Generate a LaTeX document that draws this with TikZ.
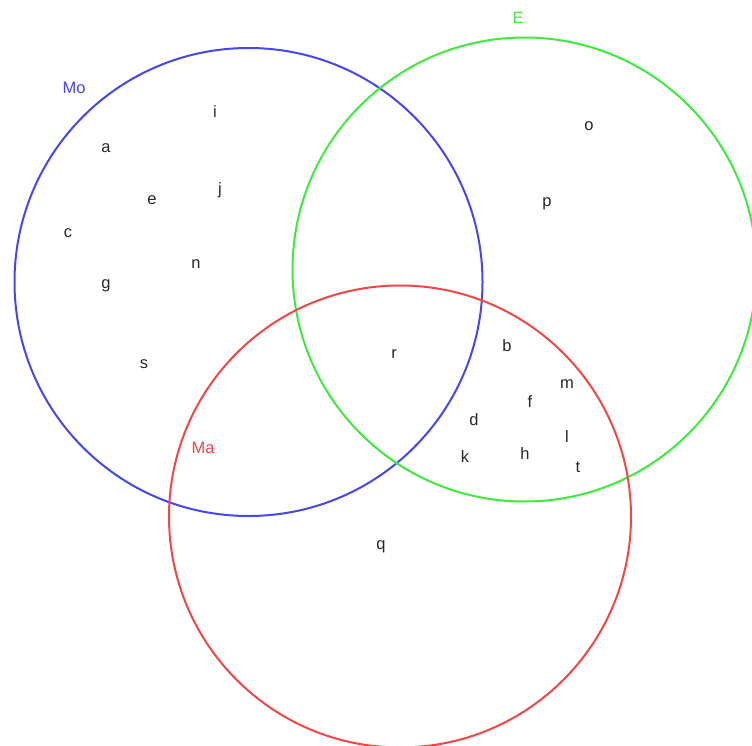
\documentclass[tikz,border=0pt]{standalone}
\usepackage{fontspec}
\setmainfont{Liberation Sans}
\definecolor{moblue}{RGB}{70,70,245}
\definecolor{egreen}{RGB}{60,235,60}
\definecolor{mared}{RGB}{245,70,70}
\definecolor{lettergrey}{RGB}{40,40,40}
\tikzset{
  elem/.style={text=lettergrey,font=\fontsize{16.5}{18}\selectfont,inner sep=0pt},
  setlabel/.style={font=\fontsize{16.5}{18}\selectfont,inner sep=0pt}
}
\begin{document}
\begin{tikzpicture}[x=1pt,y=1pt,yscale=-1,xscale=1]
        \useasboundingbox (0,0) rectangle (752,746);

        %Shape: Circle Mo
        \draw [moblue, line width=2pt] (248.5,282) circle (234);
        %Shape: Circle E
        \draw [egreen, line width=2pt] (524.5,269.5) circle (232);
        %Shape: Circle Ma
        \draw [mared, line width=2pt] (400,516.5) circle (231);

        %Set labels
        \node [setlabel, text=moblue] (mo) at (74,88) {Mo};
        \node [setlabel, text=egreen] (e) at (518,18) {E};
        \node [setlabel, text=mared] (ma) at (203,448) {Ma};

        %Elements
        \node [elem] (i) at (215,112) {i};
        \node [elem] (a) at (106,148) {a};
        \node [elem] (ee) at (152,200) {e};
        \node [elem] (j) at (220,190) {j};
        \node [elem] (c) at (68,233) {c};
        \node [elem] (n) at (196,264) {n};
        \node [elem] (g) at (106,286) {g};
        \node [elem] (s) at (144,364) {s};
        \node [elem] (o) at (589,126) {o};
        \node [elem] (p) at (547,204) {p};
        \node [elem] (r) at (394,354) {r};
        \node [elem] (b) at (507,346) {b};
        \node [elem] (m) at (567,384) {m};
        \node [elem] (f) at (530,402) {f};
        \node [elem] (d) at (474,420) {d};
        \node [elem] (l) at (567,437) {l};
        \node [elem] (k) at (465,457) {k};
        \node [elem] (h) at (525,454) {h};
        \node [elem] (t) at (578,467) {t};
        \node [elem] (q) at (381,547) {q};
\end{tikzpicture}
\end{document}
